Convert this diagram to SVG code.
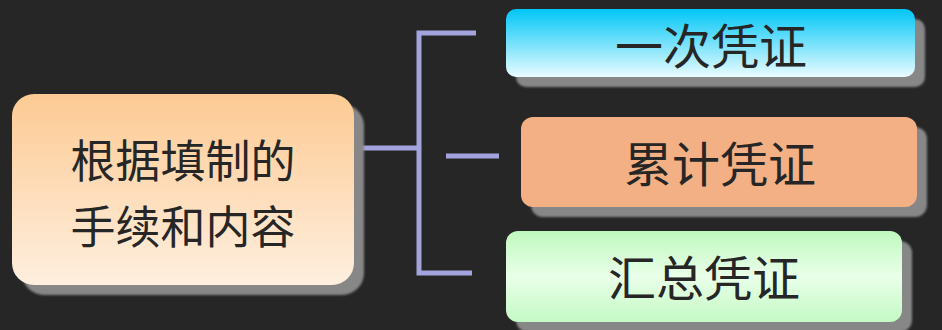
<svg xmlns="http://www.w3.org/2000/svg" width="942" height="330" viewBox="0 0 942 330">
<defs>
<linearGradient id="gMain" x1="0" y1="0" x2="0" y2="1"><stop offset="0" stop-color="#FDCA93"/><stop offset="1" stop-color="#FEEFDF"/></linearGradient>
<linearGradient id="gBlue" x1="0" y1="0" x2="0" y2="1"><stop offset="0" stop-color="#00C6F7"/><stop offset="1" stop-color="#EAFCFF"/></linearGradient>
<linearGradient id="gGreen" x1="0" y1="0" x2="0" y2="1"><stop offset="0" stop-color="#BFF9BF"/><stop offset="0.5" stop-color="#E9FFE9"/><stop offset="1" stop-color="#C4F9C4"/></linearGradient>
<filter id="blur" x="-5%" y="-10%" width="110%" height="120%"><feGaussianBlur stdDeviation="1.2"/></filter>
<style>
.shadow{fill:#878787;filter:url(#blur)}
.lbl{font-family:"Noto Sans CJK SC","Noto Sans",sans-serif;font-size:48px;fill:#262626;text-anchor:middle;dominant-baseline:central}
.main{font-size:45px}
.conn{stroke:#A3A3DD;stroke-width:5;fill:none}
</style>
</defs>
<rect width="942" height="330" fill="#262626"/>
<g id="connectors">
<path class="conn" d="M352 148 H419"/>
<path class="conn" d="M476 33 H419 V273 H472"/>
<path class="conn" d="M446 156 H499"/>
</g>
<g id="main">
<rect class="shadow" x="22" y="104" width="342" height="191" rx="22"/>
<rect x="12" y="94" width="342" height="191" rx="22" fill="url(#gMain)"/>
<text class="lbl main" x="183" y="158">根据填制的</text>
<text class="lbl main" x="183" y="224">手续和内容</text>
</g>
<g id="n1">
<rect class="shadow" x="516" y="19" width="409" height="68" rx="10"/>
<rect x="506" y="9" width="409" height="68" rx="10" fill="url(#gBlue)"/>
<text class="lbl" x="711" y="43">一次凭证</text>
</g>
<g id="n2">
<rect class="shadow" x="531" y="127" width="396" height="90" rx="12"/>
<rect x="521" y="117" width="396" height="90" rx="12" fill="#F3B084"/>
<text class="lbl" x="720" y="161">累计凭证</text>
</g>
<g id="n3">
<rect class="shadow" x="516" y="241" width="396" height="91" rx="12"/>
<rect x="506" y="231" width="396" height="91" rx="12" fill="url(#gGreen)"/>
<text class="lbl" x="704" y="275">汇总凭证</text>
</g>
</svg>
